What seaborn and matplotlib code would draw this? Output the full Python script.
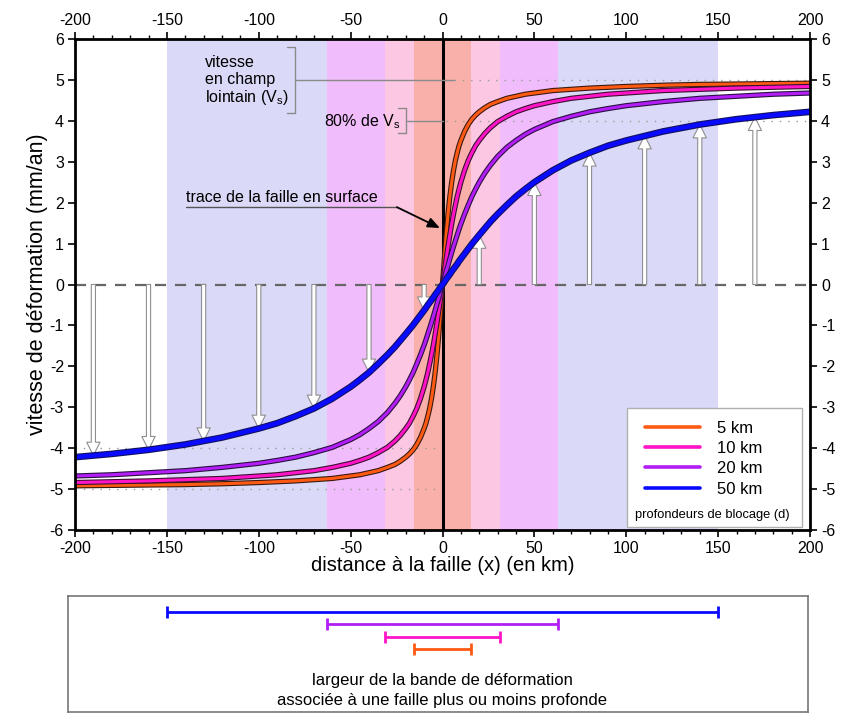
import matplotlib
matplotlib.use("Agg")
import matplotlib.pyplot as plt
import matplotlib.patheffects as pe
from matplotlib.lines import Line2D
from matplotlib.patches import Rectangle
from matplotlib.ticker import MultipleLocator
import seaborn as sns
import pandas as pd

# ---------------- data ----------------
x_km = [-200, -180, -160, -140, -120, -100, -90, -80, -70, -60, -50, -45, -40, -35, -30, -26, -23, -20, -18, -16,
        -14, -12, -10, -9, -8, -7, -6, -5, -4, -3, -2, -1,
        0,
        1, 2, 3, 4, 5, 6, 7, 8, 9, 10, 12, 14, 16, 18, 20, 23, 26, 30, 35, 40, 45, 50, 60, 70, 80, 90, 100,
        120, 140, 160, 180, 200]

v_5km = [-4.92, -4.91, -4.90, -4.89, -4.87, -4.84, -4.82, -4.80, -4.77, -4.74, -4.68, -4.65, -4.60, -4.55, -4.47,
         -4.40, -4.32, -4.22, -4.14, -4.04, -3.91, -3.74, -3.52, -3.39, -3.22, -3.03, -2.79, -2.50, -2.15, -1.72,
         -1.21, -0.63,
         0.00,
         0.63, 1.21, 1.72, 2.15, 2.50, 2.79, 3.03, 3.22, 3.39, 3.52, 3.74, 3.91, 4.04, 4.14, 4.22, 4.32, 4.40,
         4.47, 4.55, 4.60, 4.65, 4.68, 4.74, 4.77, 4.80, 4.82, 4.84, 4.87, 4.89, 4.90, 4.91, 4.92]
v_10km = [-4.84, -4.82, -4.80, -4.77, -4.74, -4.68, -4.65, -4.60, -4.55, -4.47, -4.37, -4.30, -4.22, -4.11, -3.98,
          -3.83, -3.69, -3.52, -3.39, -3.22, -3.03, -2.79, -2.50, -2.33, -2.15, -1.94, -1.72, -1.48, -1.21, -0.93,
          -0.63, -0.32,
          0.00,
          0.32, 0.63, 0.93, 1.21, 1.48, 1.72, 1.94, 2.15, 2.33, 2.50, 2.79, 3.03, 3.22, 3.39, 3.52, 3.69, 3.83,
          3.98, 4.11, 4.22, 4.30, 4.37, 4.47, 4.55, 4.60, 4.65, 4.68, 4.74, 4.77, 4.80, 4.82, 4.84]
v_20km = [-4.68, -4.65, -4.60, -4.55, -4.47, -4.37, -4.30, -4.22, -4.11, -3.98, -3.79, -3.67, -3.52, -3.35, -3.13,
          -2.91, -2.72, -2.50, -2.33, -2.15, -1.94, -1.72, -1.48, -1.35, -1.21, -1.07, -0.93, -0.78, -0.63, -0.47,
          -0.32, -0.16,
          0.00,
          0.16, 0.32, 0.47, 0.63, 0.78, 0.93, 1.07, 1.21, 1.35, 1.48, 1.72, 1.94, 2.15, 2.33, 2.50, 2.72, 2.91,
          3.13, 3.35, 3.52, 3.67, 3.79, 3.98, 4.11, 4.22, 4.30, 4.37, 4.47, 4.55, 4.60, 4.65, 4.68]
v_50km = [-4.22, -4.14, -4.04, -3.91, -3.74, -3.52, -3.39, -3.22, -3.03, -2.79, -2.50, -2.33, -2.15, -1.94, -1.72,
          -1.53, -1.37, -1.21, -1.10, -0.99, -0.87, -0.75, -0.63, -0.57, -0.50, -0.44, -0.38, -0.32, -0.25, -0.19,
          -0.13, -0.06,
          0.00,
          0.06, 0.13, 0.19, 0.25, 0.32, 0.38, 0.44, 0.50, 0.57, 0.63, 0.75, 0.87, 0.99, 1.10, 1.21, 1.37, 1.53,
          1.72, 1.94, 2.15, 2.33, 2.50, 2.79, 3.03, 3.22, 3.39, 3.52, 3.74, 3.91, 4.04, 4.14, 4.22]

depth_labels = ["5 km", "10 km", "20 km", "50 km"]
depth_colors = ["#ff5a14", "#ff14c8", "#b21ef5", "#0a0aff"]
depth_edges = ["#3a1a10", "#3a1030", "#2a1040", "#101060"]

band_halfwidth = [15.7, 31.4, 62.8, 150.0]
band_colors = ["#f9b0aa", "#fcc7e3", "#f1bcfb", "#dadaf8"]

arrow_x = [-190, -160, -130, -100, -70, -40, -10, 20, 50, 80, 110, 140, 170]
arrow_v = [-4.18, -4.04, -3.83, -3.52, -3.03, -2.15, -0.63, 1.21, 2.50, 3.22, 3.64, 3.91, 4.09]

far_field = 5.0
eighty_pct = 4.0

x_ticks = [-200, -150, -100, -50, 0, 50, 100, 150, 200]
y_ticks = [-6, -5, -4, -3, -2, -1, 0, 1, 2, 3, 4, 5, 6]

# ---------------- style ----------------
sns.set_theme(style="ticks")
plt.rcParams["font.family"] = ["Liberation Sans", "DejaVu Sans"]
plt.rcParams["axes.unicode_minus"] = False
plt.rcParams["mathtext.fontset"] = "custom"
plt.rcParams["mathtext.rm"] = "Liberation Sans"
plt.rcParams["mathtext.it"] = "Liberation Sans"
for k in ["text.color", "axes.labelcolor", "xtick.color", "ytick.color"]:
    plt.rcParams[k] = "black"

fig = plt.figure(figsize=(8.43, 7.13), dpi=100)
ax = fig.add_axes([75 / 843, 1 - 530 / 713, 735 / 843, 491 / 713])
ax.set_xlim(-200, 200)
ax.set_ylim(-6, 6)

# shaded deformation bands (widest first)
for hw, c in reversed(list(zip(band_halfwidth, band_colors))):
    ax.axvspan(-hw, hw, color=c, lw=0, zorder=0)

# dotted guide lines
dot_kw = dict(color="#9a9a9a", lw=1.0, linestyle=(0, (1, 5)), zorder=1)
ax.hlines([far_field], 6, 200, **dot_kw)
ax.hlines([eighty_pct], 2, 200, **dot_kw)
ax.hlines([-far_field, -eighty_pct], -200, -3, **dot_kw)

# zero line
ax.axhline(0, color="#666666", lw=1.6, linestyle=(0, (5, 4)), zorder=1.5)

# arrows
for xa, va in zip(arrow_x, arrow_v):
    ax.annotate("", xy=(xa, va), xytext=(xa, 0),
                arrowprops=dict(arrowstyle="simple,head_length=0.8,head_width=0.8,tail_width=0.25",
                                fc="white", ec="#8f8f8f", lw=0.8, shrinkA=0, shrinkB=0,
                                mutation_scale=12),
                zorder=2)

# fault trace
ax.axvline(0, color="black", lw=2.2, zorder=3)

# curves
curves = [v_5km, v_10km, v_20km, v_50km]
widths = [2.2, 2.2, 2.2, 3.2]
for vals, lab, col, edg, lw in zip(curves, depth_labels, depth_colors, depth_edges, widths):
    df = pd.DataFrame({"x": x_km, "v": vals})
    sns.lineplot(data=df, x="x", y="v", estimator=None, sort=False, color=col, lw=lw, ax=ax, zorder=5)
    ln = ax.lines[-1]
    ln.set_solid_joinstyle("round")
    ln.set_path_effects([pe.Stroke(linewidth=lw + 1.6, foreground=edg, joinstyle="round"), pe.Normal()])

# annotations
gray = "#8a8a8a"
ax.plot([-84.6, -80.3, -80.3, -84.6], [5.81, 5.81, 4.19, 4.19], color=gray, lw=1.0, zorder=4)
ax.plot([-80.3, 6], [far_field, far_field], color=gray, lw=1.0, zorder=4)
ann_fs = 11.5
ax.text(-129.3, 5.42, "vitesse", fontsize=ann_fs, va="center", ha="left", zorder=6)
ax.text(-129.3, 5.0, "en champ", fontsize=ann_fs, va="center", ha="left", zorder=6)
ax.text(-129.3, 4.58, "lointain (V$_{\\rm s}$)", fontsize=ann_fs, va="center", ha="left", zorder=6)

ax.plot([-24.2, -19.9, -19.9, -24.2], [4.31, 4.31, 3.70, 3.70], color=gray, lw=1.0, zorder=4)
ax.plot([-19.9, 0], [eighty_pct, eighty_pct], color=gray, lw=1.0, zorder=4)
ax.text(-23.0, 3.97, "80% de V$_{\\rm s}$", fontsize=ann_fs, va="center", ha="right", zorder=6)

ax.text(-139.6, 2.13, "trace de la faille en surface", fontsize=ann_fs, va="center", ha="left", zorder=6)
ax.plot([-139.6, -24.8], [1.89, 1.89], color="#555555", lw=1.0, zorder=6)
ax.annotate("", xy=(-1.4, 1.38), xytext=(-24.8, 1.89),
            arrowprops=dict(arrowstyle="-|>,head_length=0.6,head_width=0.25", color="black", lw=1.3,
                            shrinkA=0, shrinkB=0), zorder=6)

# legend (manual frame)
ax.add_patch(Rectangle((0.751, 0.006), 0.238, 0.242, transform=ax.transAxes, fc="white",
                       ec="#b0b0b0", lw=1.0, zorder=7))
handles = [Line2D([0], [0], color=c, lw=2.6) for c in depth_colors]
leg = ax.legend(handles, depth_labels, loc="center left", bbox_to_anchor=(0.7758, 0.1456),
                frameon=False, fontsize=12, handlelength=3.3, handletextpad=1.0,
                labelspacing=0.32, borderpad=0, borderaxespad=0)
leg.set_zorder(8)
ax.text(0.867, 0.031, "profondeurs de blocage (d)", transform=ax.transAxes, fontsize=9.3,
        ha="center", va="center", zorder=9)

# axes styling
ax.set_xticks(x_ticks)
ax.set_yticks(y_ticks)
ax.xaxis.set_minor_locator(MultipleLocator(10))
ax.tick_params(which="both", direction="out", top=True, right=True, labeltop=True, labelright=True,
               colors="black", labelsize=11.5)
ax.tick_params(which="major", length=5, width=1.2, pad=3)
ax.tick_params(which="minor", length=3, width=1.0)
for s in ax.spines.values():
    s.set_linewidth(2.0)
    s.set_color("black")
    s.set_zorder(10)
ax.set_xlabel("distance à la faille (x) (en km)", fontsize=14.5, labelpad=0)
ax.set_ylabel("vitesse de déformation (mm/an)", fontsize=15.5, labelpad=1)
ax.grid(False)

# bottom panel: band widths
ax2 = fig.add_axes([68 / 843, 1 - 712 / 713, 740 / 843, 116 / 713])
ax2.set_xlim((68 - 442.5) / 1.8375, (808 - 442.5) / 1.8375)
ax2.set_ylim(116, 0)
bar_y = [53, 41, 28, 16]
for hw, c, yb in zip(band_halfwidth, depth_colors, bar_y):
    ax2.errorbar([0], [yb], xerr=[hw], fmt="none", ecolor=c, elinewidth=2.0, capsize=4, capthick=2.0)
ax2.text(0, 85, "largeur de la bande de déformation", ha="center", va="center", fontsize=12)
ax2.text(0, 104, "associée à une faille plus ou moins profonde", ha="center", va="center", fontsize=12)
ax2.set_xticks([])
ax2.set_yticks([])
for s in ax2.spines.values():
    s.set_linewidth(1.2)
    s.set_color("#777777")

fig.savefig("out.png", dpi=100)
